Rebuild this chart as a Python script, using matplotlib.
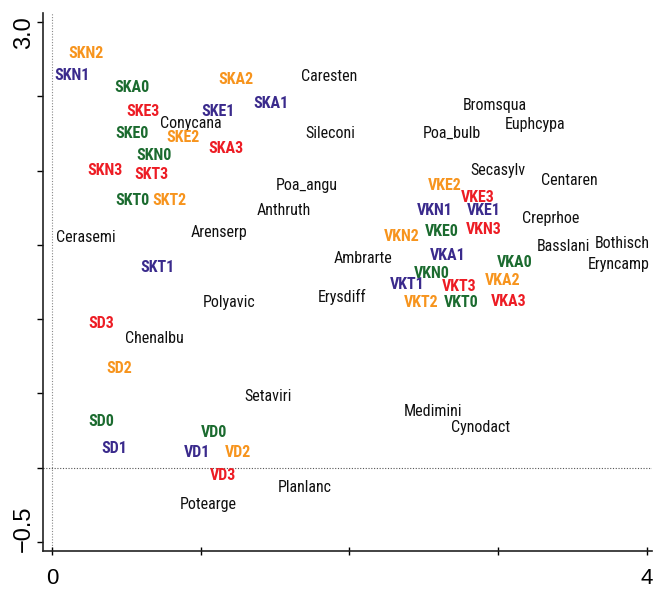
import matplotlib
matplotlib.use("Agg")
import matplotlib.pyplot as plt
from matplotlib import font_manager as fm
from matplotlib.transforms import ScaledTranslation

# pick a narrow Arial-like family that has both regular and bold faces
_avail = {}
for f in fm.fontManager.ttflist:
    _avail.setdefault(f.name, set()).add(f.weight if isinstance(f.weight, int) else 400)
_prefs = ["Liberation Sans Narrow", "Nimbus Sans Narrow", "Arial Narrow",
          "Roboto Condensed", "PT Sans Narrow", "IBM Plex Sans Condensed",
          "Fira Sans Condensed", "Archivo Narrow", "Liberation Sans"]
narrow = "Liberation Sans"
for p in _prefs:
    if p in _avail and any(w >= 600 for w in _avail[p]) and any(w <= 400 for w in _avail[p]):
        narrow = p
        break

# Species scores (black labels)
species = ["Caresten", "Sileconi", "Conycana", "Poa_angu", "Anthruth", "Arenserp",
           "Cerasemi", "Bromsqua", "Euphcypa", "Poa_bulb", "Secasylv", "Centaren",
           "Creprhoe", "Basslani", "Bothisch", "Eryncamp", "Ambrarte", "Erysdiff",
           "Polyavic", "Chenalbu", "Setaviri", "Medimini", "Cynodact", "Planlanc",
           "Potearge"]
species_x = [1.86, 1.87, 0.935, 1.71, 1.56, 1.12, 0.23, 2.98, 3.25, 2.69, 3.00, 3.48,
             3.35, 3.44, 3.83, 3.81, 2.09, 1.95, 1.19, 0.686, 1.45, 2.56, 2.88, 1.70,
             1.05]
species_y = [2.63, 2.25, 2.315, 1.90, 1.73, 1.58, 1.55, 2.44, 2.31, 2.25, 2.00, 1.93,
             1.68, 1.49, 1.51, 1.37, 1.41, 1.15, 1.11, 0.87, 0.48, 0.38, 0.27, -0.13,
             -0.25]

# Site scores (coloured bold labels)
sites = ["SKN2", "SKN1", "SKA0", "SKA2", "SKA1", "SKE3", "SKE1", "SKE0", "SKE2",
         "SKA3", "SKN0", "SKN3", "SKT3", "SKT0", "SKT2", "SKT1",
         "VKE2", "VKE3", "VKN1", "VKE1", "VKN3", "VKE0", "VKN2", "VKA1", "VKA0",
         "VKN0", "VKA2", "VKT1", "VKT3", "VKT2", "VKT0", "VKA3",
         "SD3", "SD2", "SD0", "SD1", "VD0", "VD1", "VD2", "VD3"]
sites_x = [0.23, 0.135, 0.54, 1.24, 1.47, 0.61, 1.12, 0.54, 0.88,
           1.17, 0.686, 0.36, 0.67, 0.54, 0.79, 0.71,
           2.64, 2.865, 2.57, 2.905, 2.905, 2.62, 2.35, 2.66, 3.11,
           2.555, 3.03, 2.39, 2.74, 2.48, 2.75, 3.07,
           0.335, 0.45, 0.335, 0.42, 1.09, 0.975, 1.25, 1.15]
sites_y = [2.79, 2.64, 2.56, 2.61, 2.45, 2.40, 2.40, 2.25, 2.22,
           2.15, 2.10, 2.00, 1.97, 1.80, 1.80, 1.35,
           1.90, 1.82, 1.73, 1.73, 1.60, 1.59, 1.555, 1.43, 1.38,
           1.31, 1.26, 1.23, 1.22, 1.11, 1.11, 1.12,
           0.97, 0.67, 0.31, 0.13, 0.24, 0.10, 0.10, -0.05]

level_colors = {"0": "#1b6b2f", "1": "#3a2a8c", "2": "#f7941d", "3": "#ed1c24"}

x_ticks = [0, 1, 2, 3, 4]
x_ticklabels = ["0", "", "", "", "4"]
y_ticks = [-0.5, 0.0, 0.5, 1.0, 1.5, 2.0, 2.5, 3.0]
y_ticklabels = ["\u22120.5", "", "", "", "", "", "", "3.0"]

fig = plt.figure(figsize=(6.54, 5.91), dpi=100)
ax = fig.add_axes([0.0657, 0.0677, 0.9305, 0.9103])
ax.set_xlim(-0.06, 4.03)
ax.set_ylim(-0.56, 3.06)

ax.axvline(0, color="#888888", lw=0.8, ls=(0, (1, 1.5)), zorder=0)
ax.axhline(0, color="#555555", lw=0.8, ls=(0, (1, 1.5)), zorder=0)

for name, x, y in zip(species, species_x, species_y):
    ax.text(x, y, name, ha="center", va="center", fontsize=11.5,
            family=[narrow, "DejaVu Sans"], color="#111111")

for name, x, y in zip(sites, sites_x, sites_y):
    ax.text(x, y, name, ha="center", va="center", fontsize=11.5, fontweight="bold",
            family=[narrow, "DejaVu Sans"], color=level_colors[name[-1]])

for s in ["top", "right"]:
    ax.spines[s].set_visible(False)
for s in ["left", "bottom"]:
    ax.spines[s].set_linewidth(1.2)
    ax.spines[s].set_color("#222222")

ax.set_xticks(x_ticks)
ax.set_xticklabels(x_ticklabels, fontsize=16, family="Liberation Sans")
ax.set_yticks(y_ticks)
ax.set_yticklabels(y_ticklabels, fontsize=17, family="Liberation Sans",
                   rotation=90, va="center")
ax.tick_params(axis="x", direction="inout", length=6, width=1.0, pad=9)
ax.tick_params(axis="y", direction="out", length=4, width=1.0, pad=1.5)

# end labels sit slightly inward from their ticks, as in the reference
ylabels = ax.get_yticklabels()
ylabels[0].set_transform(ylabels[0].get_transform() +
                         ScaledTranslation(0, 13 / 100, fig.dpi_scale_trans))
ylabels[-1].set_transform(ylabels[-1].get_transform() +
                          ScaledTranslation(0, -11 / 100, fig.dpi_scale_trans))

fig.savefig("out.png", dpi=100)
